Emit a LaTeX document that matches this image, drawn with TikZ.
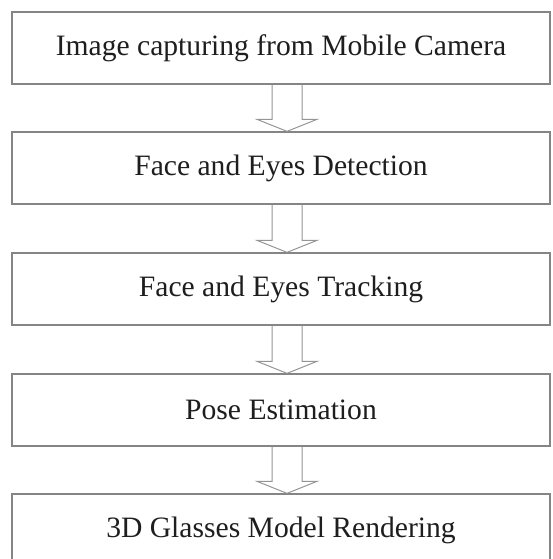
\documentclass[tikz,border=0pt]{standalone}
\usepackage{fontspec}
\setmainfont{Liberation Serif}
\usetikzlibrary{calc}
\definecolor{boxline}{HTML}{858585}
\definecolor{arrline}{HTML}{959595}
\definecolor{txt}{HTML}{1E1E1E}
\tikzset{
  stage/.style={draw=boxline, line width=1.3pt, minimum width=538pt, minimum height=72pt,
    inner sep=0pt, text=txt, font=\fontsize{29.6}{32}\selectfont},
  blockarr/.style={draw=arrline, line width=1pt, line join=miter}
}
\newcommand{\flowarrow}[2]{%
  \draw[blockarr] ($(#1.south)+(-9,0)$) -- ($(#2.north)+(-9,12)$) -- ($(#2.north)+(-24,12)$)
    -- ($(#2.north)+(6,0)$) -- ($(#2.north)+(36,12)$) -- ($(#2.north)+(21,12)$) -- ($(#1.south)+(21,0)$);}
\begin{document}
\begin{tikzpicture}[x=1pt,y=1pt]
\useasboundingbox[fill=white] (0,0) rectangle (553,559);
\clip (0,0) rectangle (553,559);
\node[stage] (b1) at (281,511) {Image capturing from Mobile Camera};
\node[stage] (b2) at (281,391) {Face and Eyes Detection};
\node[stage] (b3) at (281,270) {Face and Eyes Tracking};
\node[stage] (b4) at (281,149) {Pose Estimation};
\node[stage] (b5) at (281,29) {3D Glasses Model Rendering};
\flowarrow{b1}{b2}
\flowarrow{b2}{b3}
\flowarrow{b3}{b4}
\flowarrow{b4}{b5}
\end{tikzpicture}
\end{document}
